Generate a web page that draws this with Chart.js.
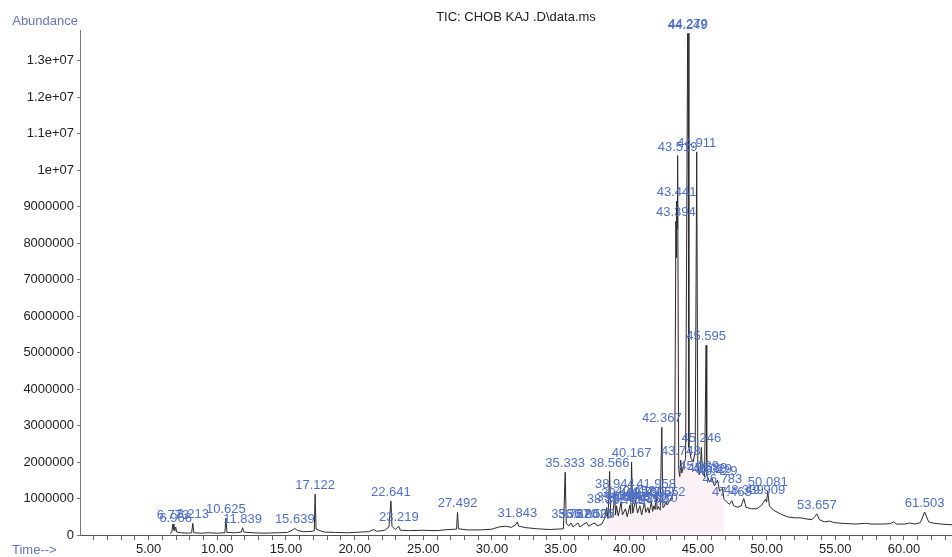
<!DOCTYPE html>
<html>
<head>
<meta charset="utf-8">
<script src="https://cdn.jsdelivr.net/npm/chart.js@4.4.1/dist/chart.umd.min.js"></script>
<style>
html,body{margin:0;padding:0;background:#ffffff;}
#wrap{width:952px;height:557px;position:relative;}
</style>
</head>
<body>
<div id="wrap"><canvas id="c"></canvas></div>
<script>
// ---------- DATA ----------
const chartTitle = 'TIC: CHOB KAJ .D\\data.ms';
const yAxisTitle = 'Abundance';
const xAxisTitle = 'Time-->';
const abundanceUnit = 1e6; // trace values below are in millions

// y tick values and their printed labels
const yTickValues = [0,1e6,2e6,3e6,4e6,5e6,6e6,7e6,8e6,9e6,1e7,1.1e7,1.2e7,1.3e7];
const yTickLabels = ['0','1000000','2000000','3000000','4000000','5000000','6000000','7000000','8000000','9000000','1e+07','1.1e+07','1.2e+07','1.3e+07'];

// x labelled ticks
const xLabelValues = [5,10,15,20,25,30,35,40,45,50,55,60];
const xTickLabels = ['5.00','10.00','15.00','20.00','25.00','30.00','35.00','40.00','45.00','50.00','55.00','60.00'];

// chromatogram trace: [time (min), abundance (millions)]
const trace = [
[6.55,0.04],[6.68,0.08],[6.773,0.30],[6.84,0.13],[6.9,0.11],[6.966,0.22],[7.05,0.08],[7.4,0.06],[7.9,0.05],[8.13,0.06],
[8.213,0.32],[8.29,0.06],[8.8,0.05],[9.4,0.06],[10.0,0.05],[10.55,0.06],[10.625,0.46],[10.7,0.07],[11.3,0.06],[11.75,0.08],
[11.839,0.20],[11.93,0.08],[12.6,0.06],[13.4,0.05],[14.3,0.06],[15.1,0.07],[15.45,0.13],[15.639,0.18],[15.85,0.12],[16.3,0.09],
[16.9,0.10],[17.06,0.12],[17.122,1.12],[17.19,0.16],[17.4,0.13],[17.8,0.08],[18.6,0.07],[19.5,0.06],[20.4,0.08],[21.0,0.09],
[21.4,0.15],[21.6,0.10],[22.2,0.13],[22.5,0.22],[22.641,0.93],[22.72,0.24],[22.95,0.15],[23.219,0.24],[23.33,0.13],[24.0,0.12],
[25.0,0.13],[26.0,0.12],[26.8,0.15],[27.42,0.16],[27.492,0.62],[27.56,0.17],[28.2,0.14],[29.2,0.14],[30.0,0.16],[30.5,0.22],
[31.0,0.24],[31.4,0.21],[31.7,0.27],[31.843,0.36],[31.95,0.24],[32.5,0.20],[33.3,0.17],[34.2,0.15],[35.2,0.17],[35.333,1.72],
[35.41,0.32],[35.6,0.25],[35.762,0.33],[35.9,0.22],[36.1,0.28],[36.270,0.33],[36.4,0.22],[36.7,0.30],[36.902,0.34],[37.05,0.24],
[37.3,0.30],[37.505,0.33],[37.65,0.25],[38.0,0.30],[38.2,0.45],[38.352,0.75],[38.45,0.45],[38.566,1.74],[38.65,0.50],[38.8,0.55],
[38.944,1.16],[39.0,0.55],[39.064,0.80],[39.2,0.52],[39.402,0.90],[39.5,0.55],[39.721,0.72],[39.85,0.50],[40.046,0.82],[40.1,0.58],
[40.167,2.00],[40.25,0.60],[40.452,0.95],[40.6,0.60],[40.774,0.80],[40.9,0.55],[41.108,0.90],[41.2,0.62],[41.352,0.75],[41.45,0.60],
[41.605,0.92],[41.7,0.65],[41.796,0.80],[41.88,0.70],[41.958,1.16],[42.03,0.70],[42.110,0.78],[42.25,0.68],[42.367,2.95],[42.45,0.75],
[42.55,0.78],[42.652,0.92],[42.75,0.82],[42.95,0.95],[43.15,1.10],[43.3,1.30],[43.394,8.60],[43.42,7.60],[43.441,9.15],[43.48,8.40],
[43.519,10.40],[43.6,1.80],[43.68,1.60],[43.748,2.05],[43.83,1.70],[43.95,1.90],[44.1,2.10],[44.249,13.74],[44.279,13.75],[44.34,2.40],
[44.5,2.10],[44.65,2.00],[44.8,2.30],[44.911,10.50],[44.99,2.00],[45.089,1.65],[45.17,1.75],[45.246,2.40],[45.33,1.70],[45.48,1.60],
[45.595,5.20],[45.64,1.65],[45.689,1.60],[45.85,1.45],[46.029,1.55],[46.2,1.35],[46.429,1.50],[46.58,1.20],[46.783,1.28],[46.9,0.98],
[47.1,0.90],[47.3,0.84],[47.463,0.94],[47.6,0.80],[47.9,0.76],[48.15,0.80],[48.339,1.00],[48.5,0.76],[48.9,0.72],[49.3,0.72],
[49.65,0.82],[49.909,0.98],[50.0,0.90],[50.081,1.20],[50.2,0.80],[50.5,0.68],[51.0,0.58],[51.5,0.50],[52.0,0.47],[52.5,0.47],
[52.9,0.44],[53.3,0.42],[53.5,0.50],[53.657,0.58],[53.85,0.42],[54.2,0.36],[54.6,0.38],[54.9,0.34],[55.5,0.32],[56.5,0.30],
[57.2,0.32],[57.6,0.30],[58.5,0.30],[59.0,0.31],[59.25,0.36],[59.45,0.30],[60.1,0.30],[60.4,0.33],[60.8,0.30],[61.2,0.34],
[61.503,0.63],[61.8,0.36],[62.2,0.32],[62.7,0.30],[63.5,0.28]
];

// labelled peaks (retention times)
const peakTimes = [6.773,6.966,8.213,10.625,11.839,15.639,17.122,22.641,23.219,27.492,31.843,35.333,35.762,36.270,36.902,37.505,
38.352,38.566,38.944,39.064,39.402,39.721,40.046,40.167,40.452,40.774,41.108,41.352,41.605,41.796,41.958,42.110,42.367,42.652,
43.394,43.441,43.519,43.748,44.249,44.279,44.911,45.089,45.246,45.595,45.689,46.029,46.429,46.783,47.463,48.339,49.909,50.081,
53.657,61.503];

// integrated region (shaded)
const integratedRange = [38.3, 46.9];

// ---------- CHART ----------
const FONT = '"Liberation Sans", Arial, sans-serif';
const LABEL_BLUE = '#5070c6';

const traceData = trace.map(p => ({x: p[0], y: p[1] * abundanceUnit}));
const shadeData = trace.filter(p => p[0] >= integratedRange[0] && p[0] <= integratedRange[1])
                       .map(p => ({x: p[0], y: p[1] * abundanceUnit}));

const overlay = {
  id: 'overlay',
  afterDatasetsDraw(chart) {
    const {ctx, chartArea, scales} = chart;
    const xs = scales.x, ys = scales.y;
    ctx.save();
    ctx.font = '13px ' + FONT;
    ctx.fillStyle = LABEL_BLUE;
    ctx.textAlign = 'center';
    ctx.textBaseline = 'alphabetic';
    peakTimes.forEach(t => {
      const p = trace.find(d => d[0] === t);
      if (!p) return;
      ctx.fillText(t.toFixed(3), xs.getPixelForValue(t), ys.getPixelForValue(p[1] * abundanceUnit) - 5);
    });
    // title
    ctx.fillStyle = '#222';
    ctx.textBaseline = 'middle';
    ctx.textAlign = 'center';
    ctx.fillText(chartTitle, (chartArea.left + chartArea.right) / 2, 17);
    // axis titles
    ctx.fillStyle = '#6477bd';
    ctx.textAlign = 'right';
    ctx.fillText(yAxisTitle, 78, 21);
    ctx.textAlign = 'left';
    ctx.fillText(xAxisTitle, 12, 550);
    ctx.restore();
  }
};

new Chart(document.getElementById('c'), {
  type: 'scatter',
  data: {
    datasets: [
      {
        label: 'TIC',
        data: traceData,
        showLine: true,
        borderColor: '#2a2a2a',
        borderWidth: 1,
        pointRadius: 0,
        tension: 0,
        fill: false
      },
      {
        label: 'integrated',
        data: shadeData,
        showLine: true,
        borderWidth: 0,
        borderColor: 'rgba(0,0,0,0)',
        backgroundColor: 'rgba(235,150,185,0.13)',
        pointRadius: 0,
        tension: 0,
        fill: 'origin'
      }
    ]
  },
  options: {
    responsive: true,
    maintainAspectRatio: false,
    animation: false,
    layout: {padding: {top: 30, left: 0, right: 0, bottom: 0}},
    plugins: {
      legend: {display: false},
      tooltip: {enabled: false},
      title: {display: false}
    },
    scales: {
      x: {
        type: 'linear',
        min: 0,
        max: 63.5,
        afterFit(scale) { scale.height = 22; },
        afterBuildTicks(scale) {
          const t = [];
          for (let v = 1; v <= 63; v++) t.push({value: v});
          scale.ticks = t;
        },
        border: {display: true, color: '#555', width: 1},
        grid: {display: true, drawOnChartArea: false, drawTicks: true, tickLength: 5, tickColor: '#666', tickWidth: 1},
        ticks: {
          autoSkip: false, maxRotation: 0, minRotation: 0, padding: 2,
          color: '#222', font: {family: FONT, size: 13},
          callback: (v) => { const i = xLabelValues.indexOf(v); return i >= 0 ? xTickLabels[i] : ''; }
        }
      },
      y: {
        type: 'linear',
        min: 0,
        max: 13.84e6,
        afterFit(scale) { scale.width = 80; },
        afterBuildTicks(scale) { scale.ticks = yTickValues.map(v => ({value: v})); },
        border: {display: true, color: '#777', width: 1},
        grid: {display: true, drawOnChartArea: false, drawTicks: true, tickLength: 3, tickColor: '#777'},
        ticks: {
          padding: 3, color: '#222', font: {family: FONT, size: 13},
          callback: (v) => { const i = yTickValues.indexOf(v); return i >= 0 ? yTickLabels[i] : ''; }
        }
      }
    }
  },
  plugins: [overlay]
});
</script>
</body>
</html>
